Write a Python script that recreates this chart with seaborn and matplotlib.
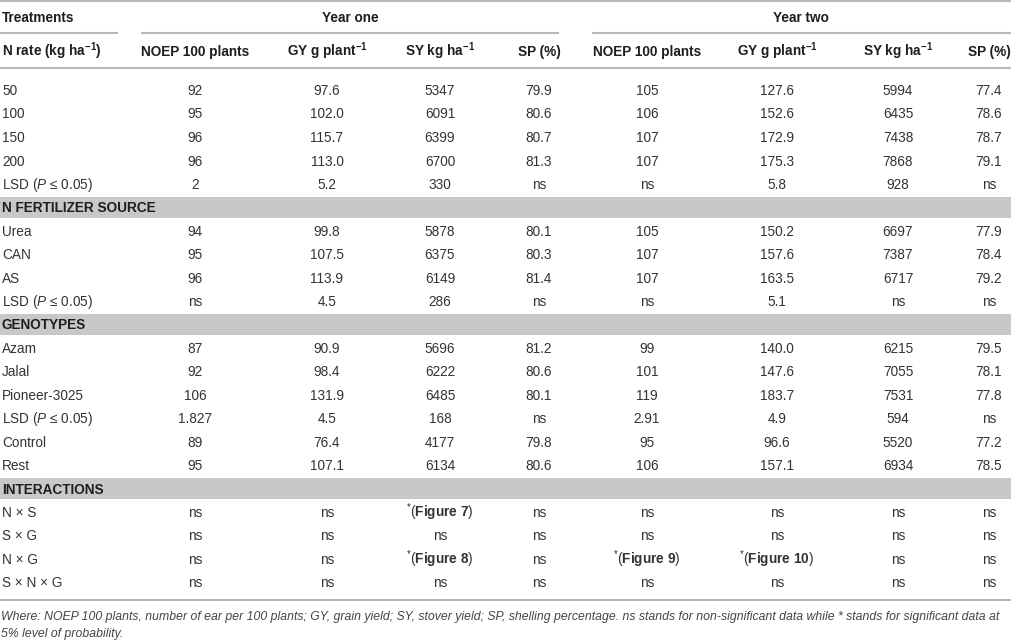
import matplotlib
matplotlib.use("Agg")
import matplotlib.pyplot as plt
import seaborn as sns

# ---------------- data ----------------
sections = ["", "N FERTILIZER SOURCE", "GENOTYPES", "INTERACTIONS"]
row_labels = [
    ["50", "100", "150", "200", "LSD"],
    ["Urea", "CAN", "AS", "LSD"],
    ["Azam", "Jalal", "Pioneer-3025", "LSD", "Control", "Rest"],
    ["N × S", "S × G", "N × G", "S × N × G"],
]
col_headers = ["NOEP 100 plants", "GY g plant$^{\\mathbf{-1}}$", "SY kg ha$^{\\mathbf{-1}}$", "SP (%)"]
year_headers = ["Year one", "Year two"]

y1_noep = ["92", "95", "96", "96", "2", "94", "95", "96", "ns",
           "87", "92", "106", "1.827", "89", "95", "ns", "ns", "ns", "ns"]
y1_gy = ["97.6", "102.0", "115.7", "113.0", "5.2", "99.8", "107.5", "113.9", "4.5",
         "90.9", "98.4", "131.9", "4.5", "76.4", "107.1", "ns", "ns", "ns", "ns"]
y1_sy = ["5347", "6091", "6399", "6700", "330", "5878", "6375", "6149", "286",
         "5696", "6222", "6485", "168", "4177", "6134", "*(Figure 7)", "ns", "*(Figure 8)", "ns"]
y1_sp = ["79.9", "80.6", "80.7", "81.3", "ns", "80.1", "80.3", "81.4", "ns",
         "81.2", "80.6", "80.1", "ns", "79.8", "80.6", "ns", "ns", "ns", "ns"]
y2_noep = ["105", "106", "107", "107", "ns", "105", "107", "107", "ns",
           "99", "101", "119", "2.91", "95", "106", "ns", "ns", "*(Figure 9)", "ns"]
y2_gy = ["127.6", "152.6", "172.9", "175.3", "5.8", "150.2", "157.6", "163.5", "5.1",
         "140.0", "147.6", "183.7", "4.9", "96.6", "157.1", "ns", "ns", "*(Figure 10)", "ns"]
y2_sy = ["5994", "6435", "7438", "7868", "928", "6697", "7387", "6717", "ns",
         "6215", "7055", "7531", "594", "5520", "6934", "ns", "ns", "ns", "ns"]
y2_sp = ["77.4", "78.6", "78.7", "79.1", "ns", "77.9", "78.4", "79.2", "ns",
         "79.5", "78.1", "77.8", "ns", "77.2", "78.5", "ns", "ns", "ns", "ns"]
columns = [y1_noep, y1_gy, y1_sy, y1_sp, y2_noep, y2_gy, y2_sy, y2_sp]

footnote_1 = ("Where: NOEP 100 plants, number of ear per 100 plants; GY, grain yield; SY, stover yield; "
              "SP, shelling percentage. ns stands for non-significant data while * stands for significant data at")
footnote_2 = "5% level of probability."

# ---------------- style ----------------
sns.set_theme(style="white")
plt.rcParams["font.family"] = ["Liberation Sans", "DejaVu Sans"]
plt.rcParams["mathtext.fontset"] = "custom"
plt.rcParams["mathtext.rm"] = "Liberation Sans"
plt.rcParams["mathtext.it"] = "Liberation Sans:italic"
plt.rcParams["mathtext.bf"] = "Liberation Sans:bold"

W, H = 1012, 642
fig = plt.figure(figsize=(W / 100, H / 100), dpi=100)
ax = fig.add_axes([0, 0, 1, 1])
ax.set_xlim(0, W)
ax.set_ylim(H, 0)
ax.axis("off")

line_c = "#b8b8b8"
band_c = "#c8c8c8"
hdr_c = "#1e1e1e"
body_c = "#333333"
lw = 1.5
fs = 9.8
base_off = 5  # baseline offset from visual center

col_x = [195, 327, 440, 539, 647, 777, 898, 989]
year_x = [350, 801]

# header
ax.hlines(1, 0, W, color=line_c, lw=lw)
ax.text(2, 17 + base_off, "Treatments", fontsize=fs, fontweight="bold", color=hdr_c, va="baseline")
for yx, yh in zip(year_x, year_headers):
    ax.text(yx, 17 + base_off, yh, fontsize=fs, fontweight="bold", color=hdr_c, ha="center", va="baseline")
for x0, x1 in [(0, 118), (141, 559), (592, W)]:
    ax.hlines(33, x0, x1, color=line_c, lw=lw)
ax.text(2, 51 + base_off, "N rate (kg ha$^{\\mathbf{-1}}$)", fontsize=fs, fontweight="bold",
        color=hdr_c, va="baseline")
for i, cx in enumerate(col_x):
    ax.text(cx, 51 + base_off, col_headers[i % 4], fontsize=fs, fontweight="bold",
            color=hdr_c, ha="center", va="baseline")
ax.hlines(68, 0, W, color=line_c, lw=lw)


def fmt(v):
    if v.startswith("*("):
        inner = v[2:-1].replace(" ", "\\ ")
        return "$^{*}$($\\mathbf{" + inner + "}$)"
    return v


def fmt_label(lbl):
    if lbl == "LSD":
        return "LSD ($\\mathit{P}$ ≤ 0.05)"
    return lbl


step = 23.5
gap = 12.8
band_h = 21
y = 90.0
prev_y = None
k = 0
for sec, labels in zip(sections, row_labels):
    if sec:
        top = prev_y + gap
        ax.axhspan(top, top + band_h, color=band_c, lw=0)
        ax.text(2, top + band_h / 2 + base_off, sec, fontsize=fs, fontweight="bold",
                color=hdr_c, va="baseline")
        y = top + band_h + gap
    for lbl in labels:
        ax.text(2, y + base_off, fmt_label(lbl), fontsize=fs, color=body_c, va="baseline")
        for cx, col in zip(col_x, columns):
            ax.text(cx, y + base_off, fmt(col[k]), fontsize=fs, color=body_c,
                    ha="center", va="baseline")
        prev_y = y
        y += step
        k += 1

ax.hlines(600, 0, W, color=line_c, lw=lw)

# footnote, fitted to width
fn_fs = 8.5
fn = ax.text(1, 616 + 4, footnote_1, fontsize=fn_fs, style="italic", color="#444444", va="baseline")
renderer = fig.canvas.get_renderer()
for _ in range(3):
    wpx = fn.get_window_extent(renderer=renderer).width
    fn_fs = fn_fs * 1006 / wpx
    fn.set_fontsize(fn_fs)
ax.text(1, 633 + 4, footnote_2, fontsize=fn_fs, style="italic", color="#444444", va="baseline")

fig.savefig("out.png", dpi=100)
